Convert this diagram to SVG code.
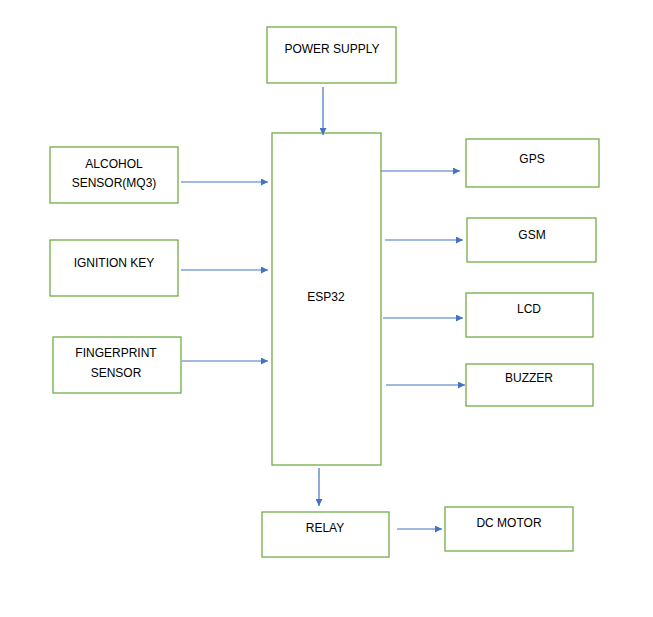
<svg xmlns="http://www.w3.org/2000/svg" width="653" height="617" viewBox="0 0 653 617">
<style>
.box{fill:#fff;stroke:#70AD47;stroke-width:1.3}
.lbl{font-family:"Liberation Sans",Arial,sans-serif;font-size:12px;fill:#000;text-anchor:middle}
.con{stroke:#4472C4;stroke-width:1.2;fill:none;marker-end:url(#ah)}
</style>
<defs>
<marker id="ah" viewBox="0 0 10 10" refX="10" refY="5" markerWidth="7" markerHeight="7" markerUnits="userSpaceOnUse" orient="auto">
<path d="M0,0 L10,5 L0,10 z" fill="#4472C4"/>
</marker>
</defs>
<rect width="653" height="617" fill="#fff"/>
<g id="power"><rect class="box" x="267" y="27" width="129" height="56"/><text class="lbl" x="332" y="53">POWER SUPPLY</text></g>
<g id="esp32"><rect class="box" x="272" y="133" width="109" height="332"/><text class="lbl" x="326" y="301">ESP32</text></g>
<g id="alcohol"><rect class="box" x="50" y="147" width="128" height="56"/><text class="lbl" x="114" y="168">ALCOHOL</text><text class="lbl" x="114" y="187">SENSOR(MQ3)</text></g>
<g id="ignition"><rect class="box" x="50" y="240" width="128" height="56"/><text class="lbl" x="114" y="267">IGNITION KEY</text></g>
<g id="fingerprint"><rect class="box" x="53" y="337" width="128" height="56"/><text class="lbl" x="116" y="357">FINGERPRINT</text><text class="lbl" x="116" y="377">SENSOR</text></g>
<g id="gps"><rect class="box" x="466" y="139" width="133" height="48"/><text class="lbl" x="532" y="163">GPS</text></g>
<g id="gsm"><rect class="box" x="467" y="218" width="129" height="44"/><text class="lbl" x="532" y="239">GSM</text></g>
<g id="lcd"><rect class="box" x="466" y="293" width="127" height="44"/><text class="lbl" x="529" y="313">LCD</text></g>
<g id="buzzer"><rect class="box" x="466" y="364" width="127" height="42"/><text class="lbl" x="529" y="382">BUZZER</text></g>
<g id="relay"><rect class="box" x="262" y="512" width="127" height="45"/><text class="lbl" x="325" y="532">RELAY</text></g>
<g id="dcmotor"><rect class="box" x="445" y="507" width="128" height="44"/><text class="lbl" x="509" y="527">DC MOTOR</text></g>
<g id="connectors">
<line class="con" x1="323" y1="87" x2="323" y2="135"/>
<line class="con" x1="181" y1="182" x2="268" y2="182"/>
<line class="con" x1="181" y1="270" x2="268" y2="270"/>
<line class="con" x1="182" y1="361" x2="268" y2="361"/>
<line class="con" x1="381" y1="171" x2="460" y2="171"/>
<line class="con" x1="385" y1="240" x2="463" y2="240"/>
<line class="con" x1="383" y1="318" x2="463" y2="318"/>
<line class="con" x1="386" y1="385" x2="465" y2="385"/>
<line class="con" x1="319" y1="468" x2="319" y2="506"/>
<line class="con" x1="397" y1="529" x2="442" y2="529"/>
</g>
</svg>
